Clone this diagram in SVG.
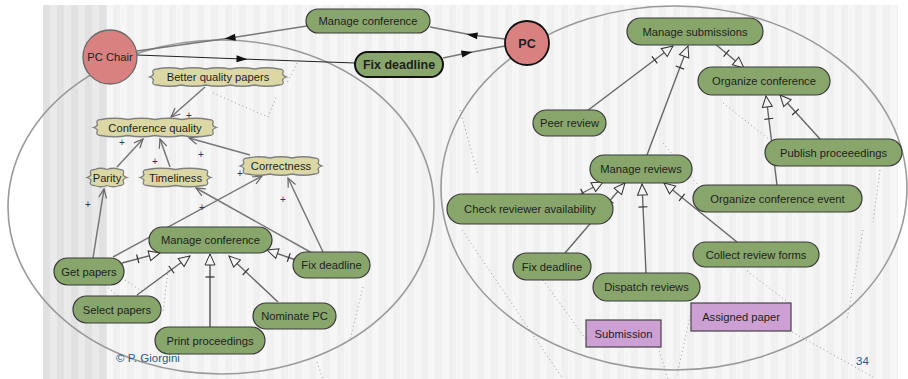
<svg xmlns="http://www.w3.org/2000/svg" width="908" height="379" viewBox="0 0 908 379">
<defs>
<pattern id="stDark" x="43" y="0" width="14" height="20" patternUnits="userSpaceOnUse">
<rect width="7" height="20" fill="#e1e1e1"/><rect x="7" width="7" height="20" fill="#eaeaea"/>
</pattern>
<pattern id="stLight" x="43" y="0" width="14" height="20" patternUnits="userSpaceOnUse">
<rect width="7" height="20" fill="#f0f0f0"/><rect x="7" width="7" height="20" fill="#f6f6f6"/>
</pattern>
<marker id="dep" markerUnits="userSpaceOnUse" markerWidth="12" markerHeight="8" refX="5.5" refY="3.5" orient="auto" overflow="visible">
<path d="M0,0 L11,3.5 L0,7 Z" fill="#111"/>
</marker>
<marker id="open" markerUnits="userSpaceOnUse" markerWidth="10" markerHeight="8" refX="9" refY="4" orient="auto" overflow="visible">
<path d="M0,0 L9,4 L0,8" fill="none" stroke="#666" stroke-width="1.2"/>
</marker>
<marker id="dec" markerUnits="userSpaceOnUse" markerWidth="30" markerHeight="12" refX="28" refY="6" orient="auto" overflow="visible">
<path d="M28,6 L17,1 L17,11 Z" fill="#f4f4f4" stroke="#333" stroke-width="1"/>
<path d="M5,1.5 L5,10.5" stroke="#333" stroke-width="1.2"/>
</marker>
<style>
.goal{fill:#88a66b;stroke:#3a3a3a;stroke-width:1.2}
.soft{fill:#dbd8a5;stroke:#808080;stroke-width:1.3}
.res{fill:#cda0d4;stroke:#444;stroke-width:1.2}
.t{font-family:"Liberation Sans",Arial,sans-serif;font-size:11.2px;fill:#1e1e1e;text-anchor:middle}
.b{font-weight:bold;font-size:12.5px}
.plus{font-family:"Liberation Sans",Arial,sans-serif;font-size:10px;fill:#2a3a5a;text-anchor:middle}
.blue{font-family:"Liberation Sans",Arial,sans-serif;font-size:11.5px;fill:#2a5a8a}
.bound{fill:none;stroke:#9a9a9a;stroke-width:1.6}
.dot{fill:none;stroke:#9a9a9a;stroke-width:1;stroke-dasharray:1 3}
.contr{fill:none;stroke:#777;stroke-width:1.5;marker-end:url(#open)}
.decl{fill:none;stroke:#666;stroke-width:1.4;marker-end:url(#dec)}
.depl{fill:none;stroke:#777;stroke-width:1.4;marker-mid:url(#dep)}
</style>
</defs>
<rect width="908" height="379" fill="#ffffff"/>
<rect x="43" y="5" width="64" height="374" fill="url(#stDark)"/>
<rect x="107" y="5" width="791" height="374" fill="url(#stLight)"/>

<g id="boundaries">
<ellipse class="bound" cx="221" cy="207" rx="213" ry="167"/>
<ellipse class="bound" cx="674" cy="188" rx="233" ry="182"/>
</g>

<g id="dotted">
<path class="dot" d="M297,63 L287,83"/>
<path class="dot" d="M213,93 L268,117 L277,95"/>
<path class="dot" d="M105,285 L118,296"/>
<path class="dot" d="M125,280 L140,290"/>
<path class="dot" d="M168,270 L163,312"/>
<path class="dot" d="M363,287 L350,340"/>
<path class="dot" d="M317,362 L323,379"/>
<path class="dot" d="M460,110 L478,175"/>
<path class="dot" d="M663,143 L698,185"/>
<path class="dot" d="M723,103 L770,140"/>
<path class="dot" d="M880,170 L873,222"/>
<path class="dot" d="M543,280 L590,345"/>
<path class="dot" d="M658,347 L668,379"/>
<path class="dot" d="M747,271 L789,303"/>
<path class="dot" d="M692,308 L677,375"/>
<path class="dot" d="M792,332 L873,377"/>
<path class="dot" d="M462,230 L563,379"/>
<path class="dot" d="M863,230 L847,320"/>
</g>

<g id="connectors">
<path class="depl" d="M307,26 L230,38 L137,51"/>
<path class="depl" d="M505,39 L472,35 L430,27"/>
<path class="depl" style="stroke:#222;stroke-width:1" d="M137,55 L242,59 L355,63"/>
<path class="depl" d="M443,58 L467,53 L505,46"/>

<path class="contr" d="M205,87 L171,117"/>
<path class="contr" d="M117,167 L143,139"/>
<path class="contr" d="M170,167 L160,139"/>
<path class="contr" d="M250,155 L189,138"/>
<path class="contr" d="M93,258 L104,189"/>
<path class="contr" d="M113,257 L262,176"/>
<path class="contr" d="M312,253 L196,188"/>
<path class="contr" d="M323,252 L288,178"/>

<path class="decl" d="M122,263 L160,253"/>
<path class="decl" d="M137,295 L190,256"/>
<path class="decl" style="stroke:#333;stroke-width:1.2" d="M210,327 L210,254"/>
<path class="decl" d="M278,302 L229,256"/>
<path class="decl" d="M296,260 L267,250"/>

<path class="decl" d="M587,111 L673,46"/>
<path class="decl" d="M647,155 L688,46"/>
<path class="decl" d="M714,43 L744,68"/>
<path class="decl" d="M777,185 L766,96"/>
<path class="decl" d="M820,139 L780,95"/>
<path class="decl" d="M575,197 L603,182"/>
<path class="decl" d="M565,253 L625,183"/>
<path class="decl" d="M646,273 L642,184"/>
<path class="decl" d="M737,242 L664,183"/>

<text class="plus" x="189" y="119">+</text>
<text class="plus" x="122" y="146">+</text>
<text class="plus" x="155" y="165">+</text>
<text class="plus" x="201" y="158">+</text>
<text class="plus" x="88" y="208">+</text>
<text class="plus" x="202" y="211">+</text>
<text class="plus" x="283" y="203">+</text>
<text class="plus" x="240" y="177">+</text>
</g>

<g id="pc-chair">
<circle cx="110" cy="57" r="27" fill="#d98080" stroke="#6a6a6a" stroke-width="1.3"/>
<text class="t" x="110" y="61">PC Chair</text>
</g>
<g id="pc">
<circle cx="527" cy="43" r="22" fill="#d98080" stroke="#111" stroke-width="1.8"/>
<text class="t b" x="527" y="47.5">PC</text>
</g>

<g id="manage-conference-top"><rect class="goal" x="306" y="9" width="124" height="24" rx="12"/><text class="t" x="368" y="25">Manage conference</text></g>
<g id="fix-deadline-top"><rect class="goal" x="355" y="52" width="88" height="25" rx="12.5" style="stroke:#111;stroke-width:2"/><text class="t b" x="399" y="69">Fix deadline</text></g>

<g id="better-quality-papers"><path class="soft" d="M157,69 Q169.2,66.5 181.4,69 Q193.6,66.5 205.8,69 Q218,66.5 230.2,69 Q242.4,66.5 254.6,69 Q266.8,66.5 279,69 Q285,69 282.5,74 Q283,76 286.5,77 Q283,78 282.5,80 Q285,85 279,85 Q266.8,87.5 254.6,85 Q242.4,87.5 230.2,85 Q218,87.5 205.8,85 Q193.6,87.5 181.4,85 Q169.2,87.5 157,85 Q151,85 153.5,80 Q153,78 149.5,77 Q153,76 153.5,74 Q151,69 157,69 Z"/><text class="t" x="218" y="81">Better quality papers</text></g>
<g id="conference-quality"><path class="soft" d="M101,119.5 Q114.5,117 128,119.5 Q141.5,117 155,119.5 Q168.5,117 182,119.5 Q195.5,117 209,119.5 Q215,119.5 212.5,124.5 Q213,126.5 216.5,127.5 Q213,128.5 212.5,130.5 Q215,135.5 209,135.5 Q195.5,138 182,135.5 Q168.5,138 155,135.5 Q141.5,138 128,135.5 Q114.5,138 101,135.5 Q95,135.5 97.5,130.5 Q97,128.5 93.5,127.5 Q97,126.5 97.5,124.5 Q95,119.5 101,119.5 Z"/><text class="t" x="155" y="131.5">Conference quality</text></g>
<g id="parity"><path class="soft" d="M94.5,169.5 Q100.75,167 107,169.5 Q113.25,167 119.5,169.5 Q125.5,169.5 123,174.5 Q123.5,176.5 127,177.5 Q123.5,178.5 123,180.5 Q125.5,185.5 119.5,185.5 Q113.25,188 107,185.5 Q100.75,188 94.5,185.5 Q88.5,185.5 91,180.5 Q90.5,178.5 87,177.5 Q90.5,176.5 91,174.5 Q88.5,169.5 94.5,169.5 Z"/><text class="t" x="107" y="181.5">Parity</text></g>
<g id="timeliness"><path class="soft" d="M147.5,169.5 Q161.5,167 175.5,169.5 Q189.5,167 203.5,169.5 Q209.5,169.5 207,174.5 Q207.5,176.5 211,177.5 Q207.5,178.5 207,180.5 Q209.5,185.5 203.5,185.5 Q189.5,188 175.5,185.5 Q161.5,188 147.5,185.5 Q141.5,185.5 144,180.5 Q143.5,178.5 140,177.5 Q143.5,176.5 144,174.5 Q141.5,169.5 147.5,169.5 Z"/><text class="t" x="175.5" y="181.5">Timeliness</text></g>
<g id="correctness"><path class="soft" d="M247.5,158 Q258.7,155.5 269.8,158 Q281,155.5 292.2,158 Q303.3,155.5 314.5,158 Q320.5,158 318,163 Q318.5,165 322,166 Q318.5,167 318,169 Q320.5,174 314.5,174 Q303.3,176.5 292.2,174 Q281,176.5 269.8,174 Q258.7,176.5 247.5,174 Q241.5,174 244,169 Q243.5,167 240,166 Q243.5,165 244,163 Q241.5,158 247.5,158 Z"/><text class="t" x="281" y="170">Correctness</text></g>

<g id="manage-conference"><rect class="goal" x="149" y="227" width="123" height="26" rx="13"/><text class="t" x="210.5" y="244">Manage conference</text></g>
<g id="get-papers"><rect class="goal" x="54" y="258" width="70" height="27" rx="13.5"/><text class="t" x="89" y="275.5">Get papers</text></g>
<g id="fix-deadline-left"><rect class="goal" x="293" y="252" width="77" height="26" rx="13"/><text class="t" x="331.5" y="269">Fix deadline</text></g>
<g id="select-papers"><rect class="goal" x="73" y="296" width="88" height="27" rx="13.5"/><text class="t" x="117" y="313.5">Select papers</text></g>
<g id="nominate-pc"><rect class="goal" x="253" y="303" width="83" height="26" rx="13"/><text class="t" x="294.5" y="320">Nominate PC</text></g>
<g id="print-proceedings"><rect class="goal" x="155" y="327" width="110" height="27" rx="13.5"/><text class="t" x="210" y="344.5">Print proceedings</text></g>

<g id="manage-submissions"><rect class="goal" x="627" y="18" width="136" height="27" rx="13.5"/><text class="t" x="695" y="35.5">Manage submissions</text></g>
<g id="organize-conference"><rect class="goal" x="698" y="67" width="132" height="28" rx="14"/><text class="t" x="764" y="85">Organize conference</text></g>
<g id="peer-review"><rect class="goal" x="533" y="110" width="73" height="26" rx="13"/><text class="t" x="569.5" y="127">Peer review</text></g>
<g id="manage-reviews"><rect class="goal" x="590" y="155" width="102" height="28" rx="14"/><text class="t" x="641" y="173">Manage reviews</text></g>
<g id="publish-proceedings"><rect class="goal" x="765" y="139" width="137" height="27" rx="13.5"/><text class="t" x="833.5" y="156.5">Publish proceeedings</text></g>
<g id="check-reviewer-availability"><rect class="goal" x="447" y="194" width="166" height="30" rx="15"/><text class="t" x="530" y="213">Check reviewer availability</text></g>
<g id="organize-conference-event"><rect class="goal" x="693" y="185" width="169" height="27" rx="13.5"/><text class="t" x="777.5" y="202.5">Organize conference event</text></g>
<g id="collect-review-forms"><rect class="goal" x="693" y="242" width="126" height="25" rx="12.5"/><text class="t" x="756" y="258.5">Collect review forms</text></g>
<g id="fix-deadline-right"><rect class="goal" x="513" y="253" width="78" height="27" rx="13.5"/><text class="t" x="552" y="270.5">Fix deadline</text></g>
<g id="dispatch-reviews"><rect class="goal" x="593" y="273" width="107" height="28" rx="14"/><text class="t" x="646.5" y="291">Dispatch reviews</text></g>

<g id="submission"><rect class="res" x="586" y="320" width="75" height="27"/><text class="t" x="623.5" y="337.5">Submission</text></g>
<g id="assigned-paper"><rect class="res" x="691" y="303" width="100" height="28"/><text class="t" x="741" y="321">Assigned paper</text></g>

<text class="blue" x="116" y="362">© P. Giorgini</text>
<text class="blue" x="856" y="365">34</text>
</svg>
